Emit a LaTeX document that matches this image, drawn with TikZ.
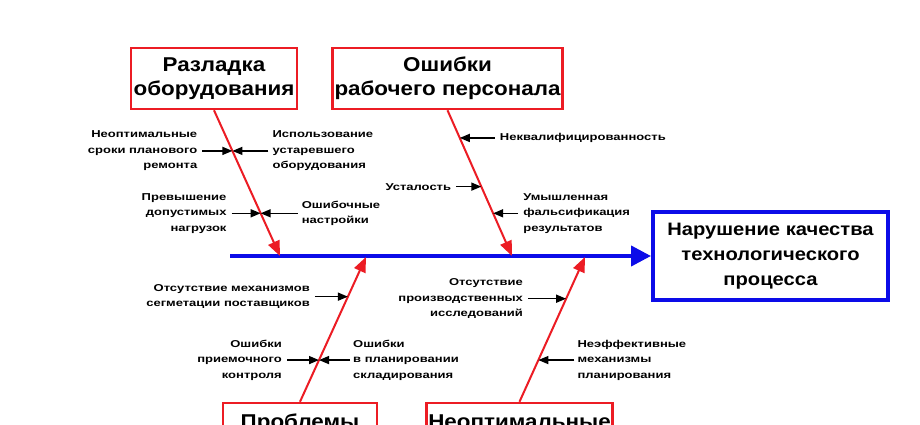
\documentclass[tikz,border=0pt]{standalone}
\usepackage{fontspec}
\setmainfont{Liberation Sans}
\newfontfamily\titlefont{Liberation Sans}[FakeStretch=1.12]
\newfontfamily\lblfont{Liberation Sans}[FakeStretch=1.3]
\usetikzlibrary{arrows.meta,positioning,calc}
\definecolor{bonered}{RGB}{236,28,36}
\definecolor{spineblue}{RGB}{12,12,232}
\tikzset{
  causebox/.style={draw=bonered, line width=2.5pt, align=center, inner sep=2pt, minimum height=61pt, font=\titlefont\bfseries\fontsize{20}{24}\selectfont},
  effectbox/.style={draw=spineblue, line width=4pt, align=center, inner sep=2pt, minimum width=235pt, minimum height=88pt, font=\titlefont\bfseries\fontsize{18}{25}\selectfont},
  lbl/.style={align=right, anchor=east, inner sep=0pt, font=\lblfont\bfseries\fontsize{10}{15.5}\selectfont},
  lblr/.style={lbl, align=left, anchor=west},
  bone/.style={bonered, line width=2pt, -{Triangle[length=15pt,width=12pt]}},
  spine/.style={spineblue, line width=4pt, -{Triangle[length=20pt,width=20pt]}},
  subarrow/.style={-{Triangle[length=10pt,width=8pt]}, line width=1.5pt}
}
\begin{document}
\begin{tikzpicture}[x=1pt, y=-1pt]
\useasboundingbox (0,0) rectangle (920,425);
\fill[white] (0,0) rectangle (920,425);
\clip (0,0) rectangle (920,425);

% head and spine
\node[effectbox] (eff) at (770.5,256) {Нарушение качества\\технологического\\процесса};
\coordinate (sp) at (230,256);
\draw[spine] (sp) -- (eff.west);

% causes
\node[causebox, minimum width=166pt] (c1) at (214,78.5) {Разладка\\оборудования};
\node[causebox, minimum width=229pt] (c2) at (447.5,78.5) {Ошибки\\рабочего персонала};
\node[causebox, minimum width=154pt] (c3) at (300,433.5) {Проблемы\\\mbox{}};
\node[causebox, minimum width=185pt] (c4) at (519.5,433.5) {Неоптимальные\\\mbox{}};

\coordinate (t1) at (280,256);
\coordinate (t2) at (512,256);
\coordinate (t3) at (366,257);
\coordinate (t4) at (585,257);
\draw[bone] (c1.south) -- (t1);
\draw[bone] (c2.south) -- (t2);
\draw[bone] (c3.north) -- (t3);
\draw[bone] (c4.north) -- (t4);

% points on the bones
\coordinate (p11) at ($(c1.south)!0.279!(t1)$);
\coordinate (p12) at ($(c1.south)!0.707!(t1)$);
\coordinate (p21) at ($(c2.south)!0.19!(t2)$);
\coordinate (p22) at ($(c2.south)!0.524!(t2)$);
\coordinate (p23) at ($(c2.south)!0.707!(t2)$);
\coordinate (p31) at ($(c3.north)!0.726!(t3)$);
\coordinate (p32) at ($(c3.north)!0.288!(t3)$);
\coordinate (p41) at ($(c4.north)!0.712!(t4)$);
\coordinate (p42) at ($(c4.north)!0.288!(t4)$);

% sub-causes
\node[lbl] (l11) at ([xshift=-35pt]p11) {Неоптимальные\\сроки планового\\ремонта};
\node[lblr] (l12) at ([xshift=40pt]p11) {Использование\\устаревшего\\оборудования};
\node[lbl] (l13) at ([xshift=-34pt]p12) {Превышение\\допустимых\\нагрузок};
\node[lblr] (l14) at ([xshift=41pt]p12) {Ошибочные\\настройки};
\node[lblr] (l21) at ([xshift=40pt]p21) {Неквалифицированность};
\node[lbl] (l22) at ([xshift=-30pt]p22) {Усталость};
\node[lblr] (l23) at ([xshift=30pt]p23) {Умышленная\\фальсификация\\результатов};
\node[lbl] (l31) at ([xshift=-38pt]p31) {Отсутствие механизмов\\сегметации поставщиков};
\node[lbl] (l32) at ([xshift=-37pt]p32) {Ошибки\\приемочного\\контроля};
\node[lblr] (l33) at ([xshift=34pt]p32) {Ошибки\\в планировании\\складирования};
\node[lbl] (l41) at ([xshift=-43pt]p41) {Отсутствие\\производственных\\исследований};
\node[lblr] (l42) at ([xshift=39pt]p42) {Неэффективные\\механизмы\\планирования};

\draw[subarrow] ([xshift=5pt]l11.east) -- (p11);
\draw[subarrow] ([xshift=-4pt]l12.west) -- (p11);
\draw[subarrow] ([xshift=5pt]l13.east) -- (p12);
\draw[subarrow] ([xshift=-4pt]l14.west) -- (p12);
\draw[subarrow] ([xshift=-5pt]l21.west) -- (p21);
\draw[subarrow] ([xshift=5pt]l22.east) -- (p22);
\draw[subarrow] ([xshift=-5pt]l23.west) -- (p23);
\draw[subarrow] ([xshift=5pt]l31.east) -- (p31);
\draw[subarrow] ([xshift=5pt]l32.east) -- (p32);
\draw[subarrow] ([xshift=-3pt]l33.west) -- (p32);
\draw[subarrow] ([xshift=5pt]l41.east) -- (p41);
\draw[subarrow] ([xshift=-3pt]l42.west) -- (p42);
\end{tikzpicture}
\end{document}
